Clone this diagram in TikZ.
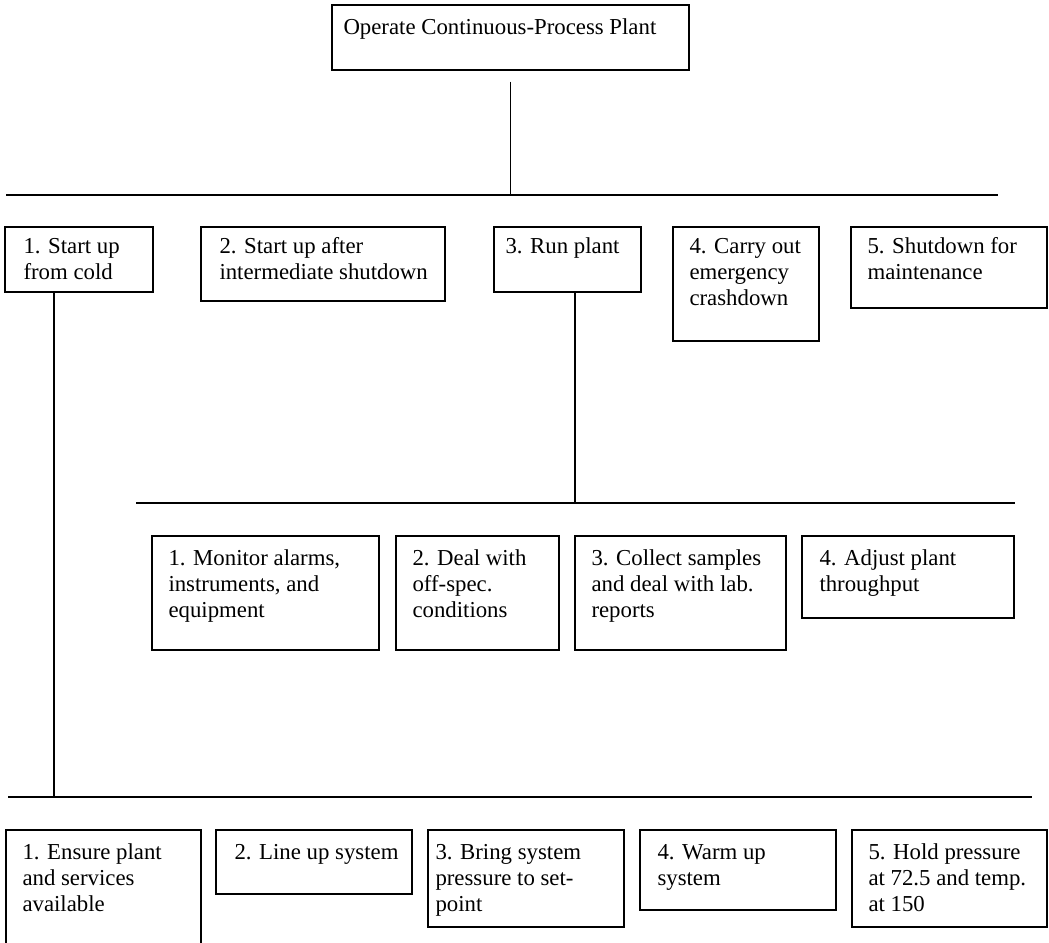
\documentclass[tikz,border=0pt]{standalone}
\usepackage{fontspec}
\setmainfont{Liberation Serif}
\usetikzlibrary{fit}

% Box outline spanning two corners, plus its top-left aligned text.
% #1 name, #2 #3 top-left corner, #4 #5 bottom-right corner,
% #6 text indent, #7 drop from box top to first line's top, #8 text
\newcommand{\taskbox}[8]{%
  \node[taskrect, fit={(#2,#3) (#4,#5)}] (#1) {};
  \node[tasktext, anchor=north west]
    at ([xshift=#6pt, yshift=-#7pt]#1.north west) {\rule{0pt}{18pt}#8};
}

\begin{document}
\begin{tikzpicture}[
    x=1pt, y=-1pt,
    taskrect/.style={draw=black, line width=1.4pt, inner sep=0pt},
    tasktext/.style={inner sep=0pt, align=left,
      font=\fontsize{22.8pt}{26pt}\selectfont},
    branch/.style={draw=black, line width=1.4pt}
  ]
  \fill[white] (0,0) rectangle (1049,942);
  \useasboundingbox (0,0) rectangle (1049,942);

  % root task
  \taskbox{top}{332}{5}{689}{70}{12}{12}{Operate Continuous-Process Plant}

  % first-level tasks
  \taskbox{a1}{5}{227}{153}{292}{19}{9}{1. Start up\\from cold}
  \taskbox{a2}{201}{227}{445}{301}{19}{9}{2. Start up after\\intermediate shutdown}
  \taskbox{a3}{494}{227}{641}{292}{12}{9}{3. Run plant}
  \taskbox{a4}{673}{227}{819}{341}{17}{9}{4. Carry out\\emergency\\crashdown}
  \taskbox{a5}{851}{227}{1047}{308}{17}{9}{5. Shutdown for\\maintenance}

  % subtasks of "Run plant"
  \taskbox{b1}{152}{536}{379}{650}{17}{12}{1. Monitor alarms,\\instruments, and\\equipment}
  \taskbox{b2}{396}{536}{559}{650}{17}{12}{2. Deal with\\off-spec.\\conditions}
  \taskbox{b3}{575}{536}{786}{650}{17}{12}{3. Collect samples\\and deal with lab.\\reports}
  \taskbox{b4}{802}{536}{1014}{618}{18}{12}{4. Adjust plant\\throughput}

  % subtasks of "Start up from cold"
  \taskbox{c1}{6}{830}{201}{960}{17}{12}{1. Ensure plant\\and services\\available}
  \taskbox{c2}{216}{830}{412}{894}{19}{12}{2. Line up system}
  \taskbox{c3}{428}{830}{624}{927}{8}{12}{3. Bring system\\pressure to set-\\point}
  \taskbox{c4}{640}{830}{836}{910}{18}{12}{4. Warm up\\system}
  \taskbox{c5}{852}{830}{1047}{927}{17}{12}{5. Hold pressure\\at 72.5 and temp.\\at 150}

  % branch bars and drop lines
  \coordinate (barAL) at (6,195);
  \coordinate (barAR) at (998,195);
  \coordinate (barBL) at (136,503);
  \coordinate (barBR) at (1015,503);
  \coordinate (barCL) at (8,797);
  \coordinate (barCR) at (1032,797);
  \coordinate (dropA1) at (54,0);
  \coordinate (dropA3) at (575,0);

  \path[branch] (barAL) -- (barAR);
  \path[branch] ([yshift=-11pt]top.south) -- (top.south |- barAL);
  \path[branch] (barBL) -- (barBR);
  \path[branch] (a3.south -| dropA3) -- (barBL -| dropA3);
  \path[branch] (barCL) -- (barCR);
  \path[branch] (a1.south -| dropA1) -- (barCL -| dropA1);
\end{tikzpicture}
\end{document}
